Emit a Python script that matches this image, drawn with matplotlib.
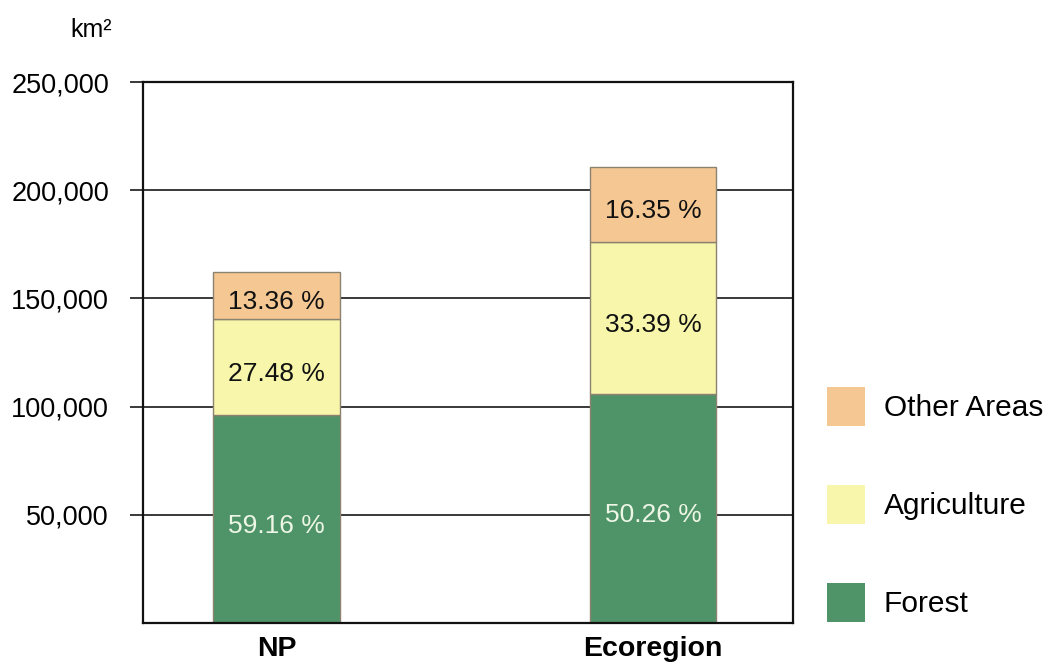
import numpy as np
import matplotlib.pyplot as plt
from matplotlib.patches import Patch
from matplotlib.ticker import FuncFormatter

plt.rcParams['font.family'] = ['Liberation Sans', 'DejaVu Sans']

# data (km2)
regions = ["NP", "Ecoregion"]
forest = [96000, 105900]
agriculture = [44600, 70350]
other = [21700, 34450]
forest_pct = ["59.16 %", "50.26 %"]
agri_pct = ["27.48 %", "33.39 %"]
other_pct = ["13.36 %", "16.35 %"]
yticks = [50000, 100000, 150000, 200000, 250000]

c_forest = "#4f9468"
c_agri = "#f7f6aa"
c_other = "#f5c893"
edge = "#8c8270"

fig = plt.figure(figsize=(10.48, 6.64), dpi=100)
ax = fig.add_axes([0.1365, 0.0617, 0.6202, 0.8148])

x = np.arange(len(regions))
w = 0.337
f = np.array(forest)
a = np.array(agriculture)
o = np.array(other)

for yv in yticks:
    ax.axhline(yv, color="#2a2a2a", lw=1.3, zorder=0)

ax.bar(x, f, w, color=c_forest, edgecolor=edge, lw=1, zorder=2)
ax.bar(x, a, w, bottom=f, color=c_agri, edgecolor=edge, lw=1, zorder=2)
ax.bar(x, o, w, bottom=f + a, color=c_other, edgecolor=edge, lw=1, zorder=2)

def seg_label(xv, yv, s, col):
    ax.annotate(s, (xv, yv), xytext=(0, -5), textcoords="offset points",
                ha="center", va="center", fontsize=19, color=col, zorder=3)

for i in range(len(x)):
    seg_label(x[i], f[i] / 2, forest_pct[i], "#eef6e6")
    seg_label(x[i], f[i] + a[i] / 2, agri_pct[i], "#111111")
    seg_label(x[i], f[i] + a[i] + o[i] / 2, other_pct[i], "#111111")

ax.set_xlim(-0.3546, 1.372)
ax.set_ylim(0, 250000)
ax.set_yticks(yticks)
ax.yaxis.set_major_formatter(FuncFormatter(lambda v, p: f"{int(v):,}"))
ax.tick_params(axis="y", length=9.5, width=1.3, color="#2a2a2a", labelsize=19.5, pad=15)
ax.set_xticks(x)
ax.set_xticklabels(regions, fontsize=20.5, fontweight="bold")
ax.tick_params(axis="x", length=0, pad=9)
for s in ax.spines.values():
    s.set_color("#111111")
    s.set_linewidth(1.6)

fig.text(0.087, 0.955, "km²", fontsize=18, ha="center", va="center")

handles = [Patch(facecolor=c_other), Patch(facecolor=c_agri), Patch(facecolor=c_forest)]
fig.legend(handles, ["Other Areas", "Agriculture", "Forest"],
           loc="upper left", bbox_to_anchor=(827 / 1048, 1 - 387 / 664),
           frameon=False, fontsize=21.5, handlelength=1.28, handleheight=1.62,
           labelspacing=1.98, handletextpad=0.62, borderpad=0, borderaxespad=0)

fig.savefig("out.png", dpi=100)
